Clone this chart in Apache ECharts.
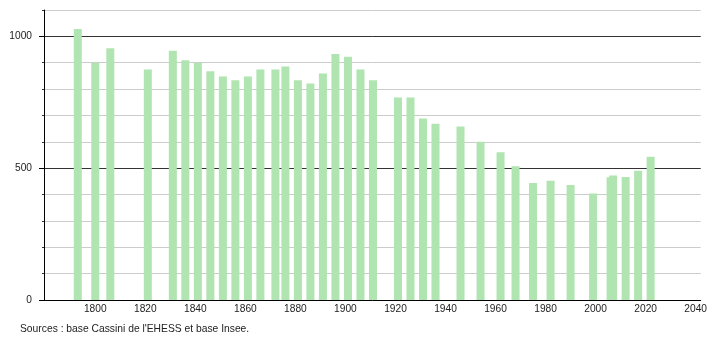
<!DOCTYPE html>
<html>
<head>
<meta charset="utf-8">
<script src="https://cdn.jsdelivr.net/npm/echarts@6/dist/echarts.min.js"></script>
<style>
html,body{margin:0;padding:0;background:#fff;}
#chart{width:710px;height:340px;}
</style>
</head>
<body>
<div id="chart"></div>
<script>
const years = [1793,1800,1806,1821,1831,1836,1841,1846,1851,1856,1861,1866,1872,1876,1881,1886,1891,1896,1901,1906,1911,1921,1926,1931,1936,1946,1954,1962,1968,1975,1982,1990,1999,2006,2007,2012,2017,2022];
const population = [1028,900,955,874,945,909,900,868,848,834,848,874,874,886,834,821,859,933,923,874,834,768,768,688,669,658,600,560,507,444,452,436,404,466,472,467,490,543];
const xTickLabels = [1800,1820,1840,1860,1880,1900,1920,1940,1960,1980,2000,2020,2040];
const yTickLabels = [0,500,1000];
const sourceText = "Sources : base Cassini de l'EHESS et base Insee.";

const font = '"Liberation Sans", Arial, sans-serif';
const chart = echarts.init(document.getElementById('chart'), null, {renderer:'canvas'});
chart.setOption({
  animation: false,
  backgroundColor: '#fff',
  grid: {left: 44, right: 9.3, top: 10, bottom: 40, containLabel: false},
  graphic: [{
    type: 'text', left: 20, top: 324,
    style: {text: sourceText, fill: '#222', font: '10.3px ' + font}
  }],
  xAxis: {
    type: 'value', min: 1779.5, max: 2042,
    axisLine: {show: true, lineStyle: {color: '#000', width: 1}},
    axisTick: {show: false},
    splitLine: {show: false},
    axisLabel: {customValues: xTickLabels, formatter: v => String(v), color: '#222', fontSize: 10.2, fontFamily: font, margin: 4}
  },
  yAxis: [{
    type: 'value', min: 0, max: 1100, interval: 100,
    axisLine: {show: false},
    axisTick: {show: true, length: 2, lineStyle: {color: '#333'}},
    axisLabel: {show: false},
    splitLine: {show: true, lineStyle: {color: '#cccccc', width: 1}}
  }, {
    type: 'value', min: 0, max: 1100, interval: 500,
    position: 'left',
    axisLine: {show: true, lineStyle: {color: '#000', width: 1}},
    axisTick: {show: true, length: 5, customValues: yTickLabels, lineStyle: {color: '#000'}},
    axisLabel: {customValues: yTickLabels, formatter: v => String(v), color: '#222', fontSize: 10.2, fontFamily: font, margin: 12},
    splitLine: {show: true, showMinLine: false, lineStyle: {color: '#333', width: 1}}
  }],
  series: [{
    type: 'bar',
    yAxisIndex: 1,
    barWidth: 8,
    itemStyle: {color: '#b0e4b0'},
    data: years.map((y, i) => [y, population[i]])
  }]
});
</script>
</body>
</html>
